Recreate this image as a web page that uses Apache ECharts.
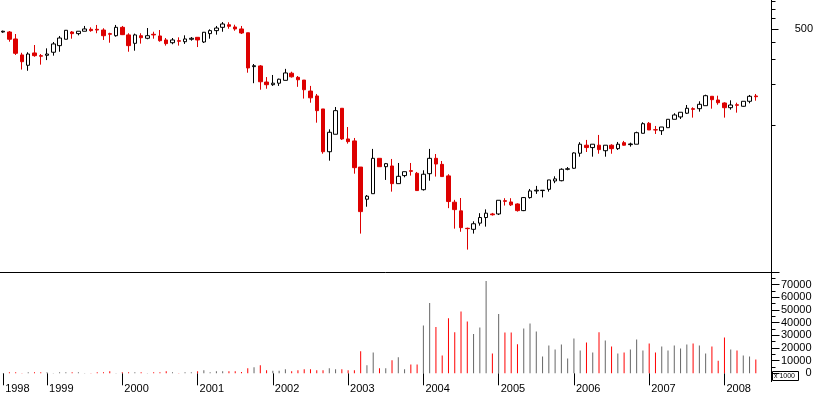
<!DOCTYPE html>
<html><head><meta charset="utf-8">
<script src="https://cdn.jsdelivr.net/npm/echarts@6/dist/echarts.min.js"></script>
<style>html,body{margin:0;padding:0;background:#fff}#c{width:817px;height:395px}</style>
</head><body><div id="c"></div>
<script>
// Monthly bars from June 1998; two empty slots remain at the right edge.
const startYear = 1998, startMonth = 6, monthCount = 123;

const opens = [478,478,425,325,273,336,321,323,340,380,
423,478,465,484,500,500,494,465,449,517,
455,395,449,430,460,447,418,399,413,406,
423,437,404,465,489,517,540,520,503,472,
267,270,206,197,202,212,239,223,213,177,
163,131,63.8,85.6,132.5,79.1,76.5,49.3,28.7,31.5,
57.1,49.6,50.2,37.3,42.7,46.4,44.4,33.7,44.1,57.1,
51.6,42.5,27.3,23.6,17.6,17.3,19.2,21.1,22.4,22.4,
28.0,27.4,26.5,23.7,29.5,33.0,33.2,33.9,39.0,39.2,
47.5,48.3,62.2,71.2,68.4,71.2,64.9,71.2,67.2,74.3,
71.9,72.4,87.0,102.9,92.4,90.9,95.6,110.1,114.5,121.9,
131.6,131.6,138.4,162.1,152.3,144.8,133.8,140.7,137.0,149.0,
162.9];
const highs = [489,486,462,337,340,384,330,363,404,447,
494,486,484,529,517,538,509,472,538,529,
468,465,468,511,480,494,432,432,437,452,
439,437,478,500,529,565,563,540,529,472,
279,274,224,232,218,257,245,228,213,193,
168.5,131,93.0,135.4,132.5,96.7,80.4,49.3,30.8,66.9,
57.1,52.8,56.5,52.8,45.6,52.8,45.4,46.7,66.9,61.4,
54.6,43.7,28.4,29.3,17.8,19.8,22.7,24.2,22.8,28.2,
29.2,29.2,26.8,29.8,34.1,35.9,33.4,39.7,42.2,48.3,
49.3,63.2,74.9,77.8,72.4,84.6,71.2,72.4,75.2,76.5,
74.3,89.4,104.7,105.2,98.4,96.7,110.1,121.9,123.9,140.0,
134.7,149.0,166.5,162.1,163.7,146.5,151.5,145.5,149.0,165.7,
168.5];
const lows = [472,406,325,254,249,315,276,298,321,343,
423,427,452,484,480,468,418,399,442,454,
343,349,393,423,427,406,380,389,380,391,
413,371,397,427,457,480,505,488,462,241,
202,181,184,193,193,212,222,190,156,145.5,
104.0,61.7,54.9,85.6,77.8,73.1,44.1,16.1,25.3,31.5,
49.6,39.7,32.6,37.3,41.5,42.7,33.2,33.2,39.2,42.0,
42.0,24.7,17.5,16.6,12.3,16.1,18.4,18.1,21.8,22.0,
25.8,25.6,23.3,23.5,29.0,31.4,29.6,32.6,37.6,38.8,
46.7,47.9,58.7,63.5,58.7,61.7,58.7,61.7,65.7,70.7,
69.5,72.4,87.0,92.0,86.0,84.6,95.6,110.1,110.7,120.4,
113.2,125.2,138.4,131.6,140.7,113.2,129.4,123.1,136.1,144.1,
150.5];
const closes = [484,423,334,290,330,321,318,330,391,432,
492,465,484,503,489,494,449,460,517,457,
380,455,434,449,455,413,393,418,409,425,
430,418,476,489,511,547,526,503,470,261,
271,207,197,202,216,240,225,214,181,158,
127.3,63.8,88.5,127.3,79.1,75.6,48.8,23.3,30.2,57.1,
49.6,52.2,37.3,42.2,45.6,45.9,33.2,43.7,57.1,51.9,
42.0,27.6,24.1,17.8,17.5,19.0,21.1,22.7,22.1,28.2,
27.7,26.1,23.7,29.5,33.0,33.4,33.4,39.7,40.4,47.5,
47.9,62.5,72.4,68.4,72.4,66.1,71.2,67.2,72.4,71.2,
72.7,87.9,102.2,92.0,92.0,96.7,110.1,118.4,123.9,132.5,
130.2,141.7,163.7,153.1,145.5,133.8,140.0,139.3,149.0,162.1,
161.0];
const volumes = [200,800,800,200,800,800,800,800,200,800,
800,800,800,200,200,800,800,1600,200,800,
800,800,800,200,800,800,1600,800,200,800,
800,1600,2400,800,1600,1600,1600,1600,1000,4000,
4800,6300,2400,2100,2100,3200,1600,2400,3200,3200,
2400,2400,4000,3200,3200,2400,2400,17500,6300,16400,
4000,4000,10300,12700,3200,6900,6900,37800,55500,36500,
14000,43400,32500,48900,41000,31000,36200,72800,15600,46800,
32300,32300,23000,35400,39400,33100,13200,22000,18800,22800,
11600,27500,18000,24300,16400,32500,25900,21200,15600,16400,
18800,26700,18000,23500,16400,21200,18000,22000,19600,22800,
23500,22000,15600,21200,10000,28300,18800,18000,14000,13200,
10800];
const priceTicks = [100,200,300,400,500,600,700,800];
const priceLabels = [500];
const volumeMax = 80000, volumeStep = 10000;

const months = [];
for (let k = 0; k < monthCount; k++) {
  const m = startMonth - 1 + k;
  months.push((startYear + Math.floor(m / 12)) + '-' + String(m % 12 + 1).padStart(2, '0'));
}
const isYearStart = (idx, val) => idx === 0 || String(val).endsWith('-01');

const candleData = opens.map((o, i) => [o, closes[i], lows[i], highs[i]]);
const volumeData = volumes.map((v, i) => ({
  value: v,
  itemStyle: { color: closes[i] < opens[i] ? '#ff0000' : '#666666' }
}));

const FONT = 'Liberation Sans';
const chart = echarts.init(document.getElementById('c'), null, { renderer: 'canvas' });
chart.setOption({
  animation: false,
  backgroundColor: '#ffffff',
  textStyle: { fontFamily: FONT },
  grid: [
    { left: 0, right: 45.5, top: 0, height: 272 },
    { left: 0, right: 45.5, top: 272, height: 101.3 }
  ],
  xAxis: [
    { type: 'category', gridIndex: 0, data: months, boundaryGap: true,
      axisLine: { show: true, onZero: false, lineStyle: { color: '#000', width: 1 } },
      axisTick: { show: false }, axisLabel: { show: false }, splitLine: { show: false } },
    { type: 'category', gridIndex: 1, data: months, boundaryGap: true, offset: 9,
      axisLine: { show: false },
      axisTick: { show: true, alignWithLabel: true, interval: isYearStart, length: 12, lineStyle: { color: '#000', width: 1 } },
      axisLabel: { show: true, interval: isYearStart, formatter: v => v.slice(0, 4), align: 'left',
        margin: 1, padding: [0, 0, 0, 2], fontSize: 11, color: '#000', fontFamily: FONT },
      splitLine: { show: false } }
  ],
  yAxis: [
    { type: 'log', gridIndex: 0, position: 'right', min: 8.44, max: 818.6,
      axisLine: { show: true, onZero: false, lineStyle: { color: '#000', width: 1 } },
      axisTick: { show: true, length: 4, customValues: priceTicks, lineStyle: { color: '#000' } },
      axisLabel: { show: false }, splitLine: { show: false } },
    { type: 'value', gridIndex: 1, position: 'right', min: 0, max: volumeMax, interval: volumeStep,
      axisLine: { show: true, onZero: false, lineStyle: { color: '#000', width: 1 } },
      axisTick: { show: true, length: 8, lineStyle: { color: '#000' } },
      minorTick: { show: true, splitNumber: 2, length: 4, lineStyle: { color: '#000' } },
      axisLabel: { show: true, align: 'right', margin: 40, fontSize: 11, color: '#000', fontFamily: FONT,
        formatter: v => (v >= volumeMax ? '' : String(v)) },
      splitLine: { show: false } },
    { type: 'log', gridIndex: 0, position: 'right', min: 8.44, max: 818.6,
      axisLine: { show: false },
      axisTick: { show: true, length: 7, customValues: priceLabels, lineStyle: { color: '#000' } },
      axisLabel: { show: true, customValues: priceLabels, align: 'right', margin: 41.5, fontSize: 11, color: '#000', fontFamily: FONT,
        formatter: v => String(Math.round(v)) },
      splitLine: { show: false } }
  ],
  graphic: [
    { type: 'line', shape: { x1: 771.5, y1: 373, x2: 771.5, y2: 382 }, style: { stroke: '#000', lineWidth: 1 } },
    { type: 'rect', shape: { x: 772.5, y: 371.5, width: 26, height: 9 }, style: { fill: '#fff', stroke: '#000', lineWidth: 1 } },
    { type: 'text', x: 774, y: 376, style: { text: 'x 1000', fontSize: 7, fontFamily: FONT, fill: '#000', verticalAlign: 'middle' } }
  ],
  series: [
    { type: 'candlestick', xAxisIndex: 0, yAxisIndex: 0, data: candleData, barWidth: 4,
      itemStyle: { color: '#ffffff', color0: '#dd0000', borderColor: '#000000', borderColor0: '#dd0000', borderWidth: 1 } },
    { type: 'bar', xAxisIndex: 1, yAxisIndex: 1, data: volumeData, barWidth: 1 }
  ]
});
</script></body></html>
